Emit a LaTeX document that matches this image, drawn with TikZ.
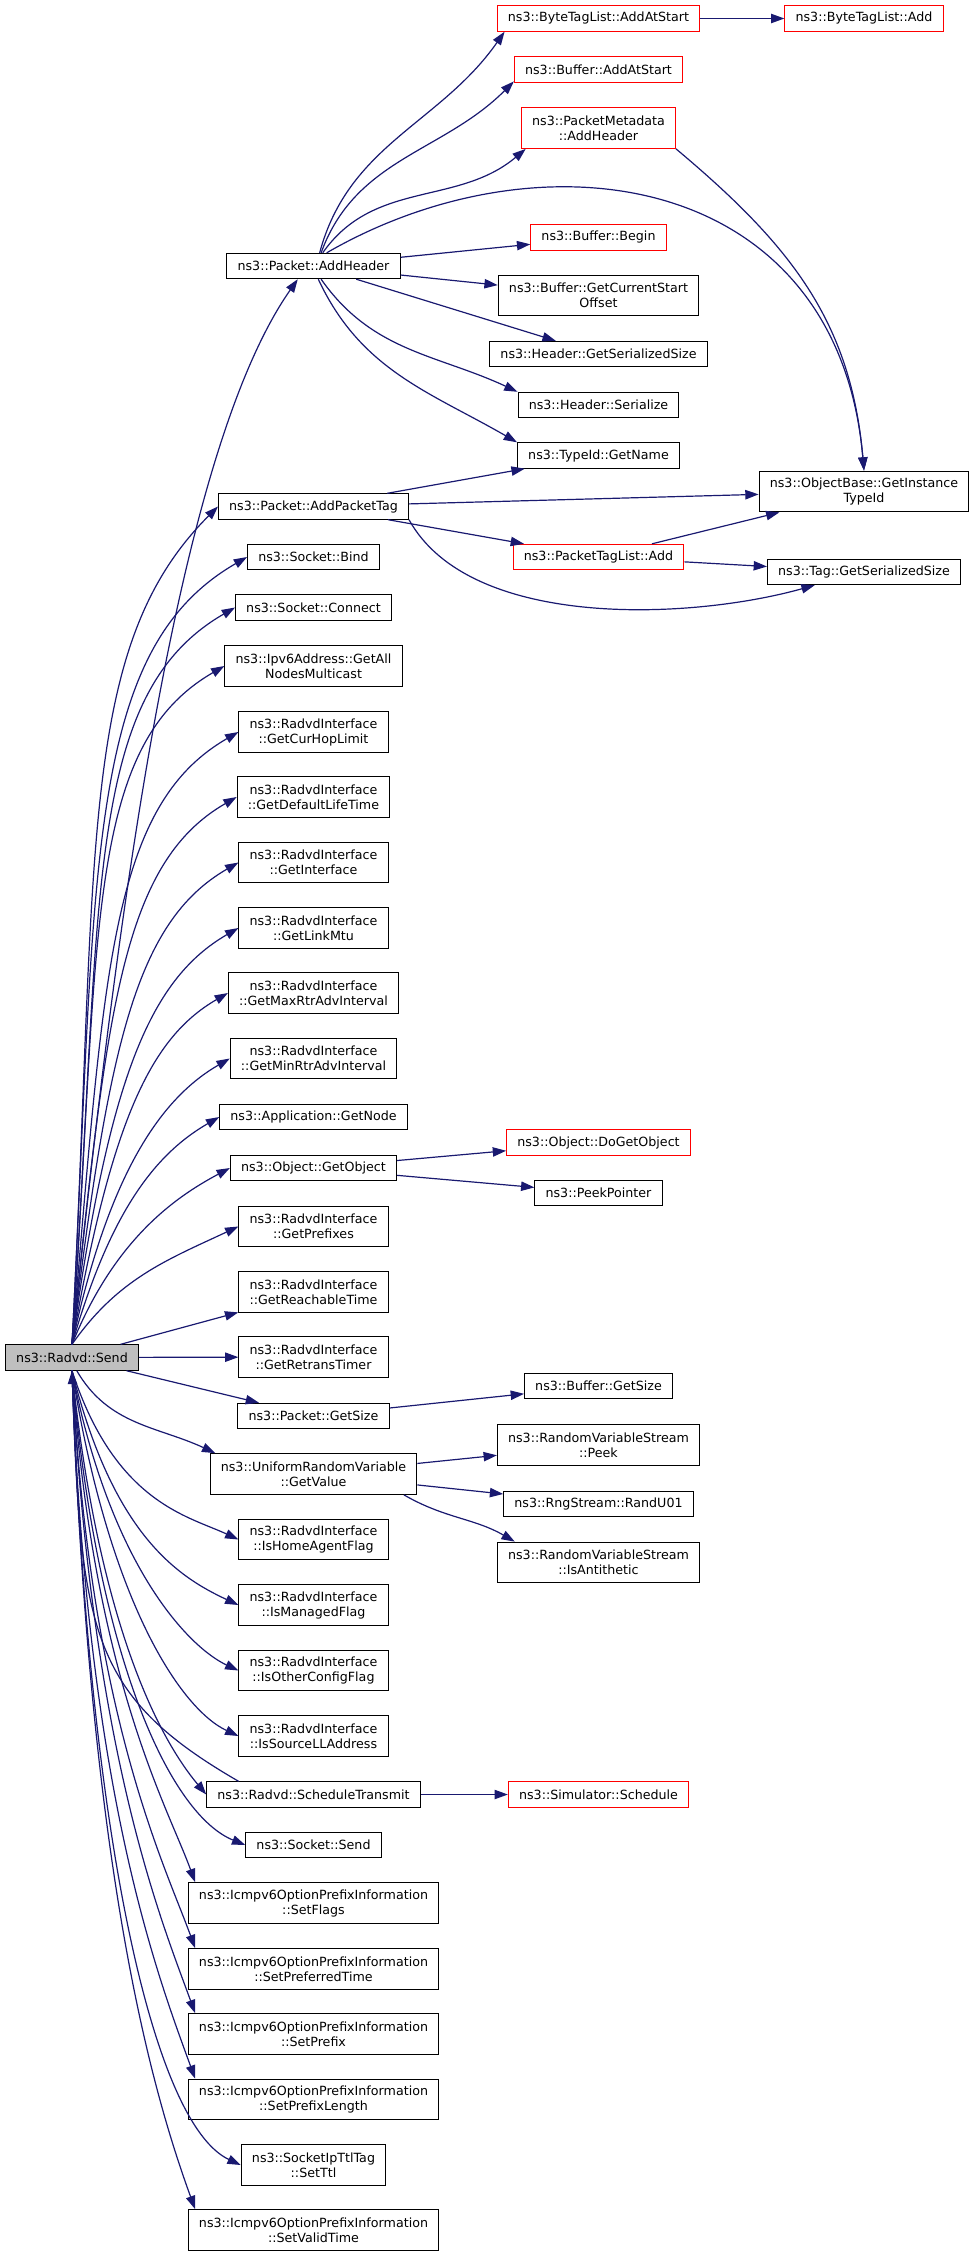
\documentclass[tikz,border=0pt]{standalone}
\usepackage{fontspec}
\setmainfont{DejaVu Sans}
\usetikzlibrary{arrows.meta}
\definecolor{edgeblue}{HTML}{191970}
\definecolor{rootgray}{HTML}{BFBFBF}

\begin{document}
\begin{tikzpicture}[x=0.75pt,y=0.75pt,
  fn/.style={rectangle,draw=black,fill=white,line width=0.8pt,font=\fontsize{9.5}{11.25}\selectfont,inner xsep=8pt,inner ysep=0pt,minimum height=19pt,align=center},
  fntwo/.style={fn,minimum height=30.5pt},
  fnred/.style={draw=red},
  fnroot/.style={fn,fill=rootgray},
  call/.style={draw=edgeblue,line width=0.9pt,-{Triangle[length=10pt,width=7pt]}},
  fan/.style={out looseness=1.5,in looseness=0.6},
  fandown/.style={out looseness=1.5,in looseness=0.4}]

\useasboundingbox (0,0) rectangle (971,-2256);

\node[fnroot] (send) at (72,-1357.5) {ns3::Radvd::Send};

\node[fn] (addHeader) at (313.5,-266) {ns3::Packet::AddHeader};
\node[fn] (addPacketTag) at (313.5,-506.5) {ns3::Packet::AddPacketTag};
\node[fn] (bind) at (313.5,-557) {ns3::Socket::Bind};
\node[fn] (connect) at (313.5,-607.5) {ns3::Socket::Connect};
\node[fntwo] (getAllNodes) at (313.5,-666) {ns3::Ipv6Address::GetAll\\NodesMulticast};
\node[fntwo] (getCurHop) at (313.5,-732) {ns3::RadvdInterface\\::GetCurHopLimit};
\node[fntwo] (getDefLife) at (313.5,-797) {ns3::RadvdInterface\\::GetDefaultLifeTime};
\node[fntwo] (getInterface) at (313.5,-862.5) {ns3::RadvdInterface\\::GetInterface};
\node[fntwo] (getLinkMtu) at (313.5,-928) {ns3::RadvdInterface\\::GetLinkMtu};
\node[fntwo] (getMaxRtr) at (313.5,-993) {ns3::RadvdInterface\\::GetMaxRtrAdvInterval};
\node[fntwo] (getMinRtr) at (313.5,-1058.5) {ns3::RadvdInterface\\::GetMinRtrAdvInterval};
\node[fn] (appGetNode) at (313.5,-1117) {ns3::Application::GetNode};
\node[fn] (getObject) at (313.5,-1168) {ns3::Object::GetObject};
\node[fntwo] (getPrefixes) at (313.5,-1226.5) {ns3::RadvdInterface\\::GetPrefixes};
\node[fntwo] (getReachable) at (313.5,-1292) {ns3::RadvdInterface\\::GetReachableTime};
\node[fntwo] (getRetrans) at (313.5,-1357) {ns3::RadvdInterface\\::GetRetransTimer};
\node[fn] (pktGetSize) at (313.5,-1416) {ns3::Packet::GetSize};
\node[fntwo] (getValue) at (313.5,-1474) {ns3::UniformRandomVariable\\::GetValue};
\node[fntwo] (isHomeAgent) at (313.5,-1539.5) {ns3::RadvdInterface\\::IsHomeAgentFlag};
\node[fntwo] (isManaged) at (313.5,-1605) {ns3::RadvdInterface\\::IsManagedFlag};
\node[fntwo] (isOtherConfig) at (313.5,-1670.5) {ns3::RadvdInterface\\::IsOtherConfigFlag};
\node[fntwo] (isSourceLL) at (313.5,-1736) {ns3::RadvdInterface\\::IsSourceLLAddress};
\node[fn] (scheduleTx) at (313.5,-1794.5) {ns3::Radvd::ScheduleTransmit};
\node[fn] (socketSend) at (313.5,-1845) {ns3::Socket::Send};
\node[fntwo] (setFlags) at (313.5,-1903) {ns3::Icmpv6OptionPrefixInformation\\::SetFlags};
\node[fntwo] (setPreferred) at (313.5,-1969) {ns3::Icmpv6OptionPrefixInformation\\::SetPreferredTime};
\node[fntwo] (setPrefix) at (313.5,-2034) {ns3::Icmpv6OptionPrefixInformation\\::SetPrefix};
\node[fntwo] (setPrefixLength) at (313.5,-2099.5) {ns3::Icmpv6OptionPrefixInformation\\::SetPrefixLength};
\node[fntwo] (setTtl) at (313.5,-2165) {ns3::SocketIpTtlTag\\::SetTtl};
\node[fntwo] (setValid) at (313.5,-2230) {ns3::Icmpv6OptionPrefixInformation\\::SetValidTime};

\node[fn,fnred] (btlAddAtStart) at (598.5,-18.5) {ns3::ByteTagList::AddAtStart};
\node[fn,fnred] (bufAddAtStart) at (598.5,-69.5) {ns3::Buffer::AddAtStart};
\node[fntwo,fnred] (pmAddHeader) at (598.5,-128) {ns3::PacketMetadata\\::AddHeader};
\node[fn,fnred] (bufBegin) at (598.5,-237.5) {ns3::Buffer::Begin};
\node[fntwo] (bufGetCurStart) at (598.5,-295.5) {ns3::Buffer::GetCurrentStart\\Offset};
\node[fn] (hdrGetSerSize) at (598.5,-354) {ns3::Header::GetSerializedSize};
\node[fn] (hdrSerialize) at (598.5,-405) {ns3::Header::Serialize};
\node[fn] (typeIdGetName) at (598.5,-455.5) {ns3::TypeId::GetName};
\node[fn,fnred] (ptlAdd) at (598.5,-557) {ns3::PacketTagList::Add};
\node[fn,fnred] (doGetObject) at (598.5,-1142.5) {ns3::Object::DoGetObject};
\node[fn] (peekPointer) at (598.5,-1193) {ns3::PeekPointer};
\node[fn] (bufGetSize) at (598.5,-1386) {ns3::Buffer::GetSize};
\node[fntwo] (rvsPeek) at (598.5,-1445) {ns3::RandomVariableStream\\::Peek};
\node[fn] (randU01) at (598.5,-1504) {ns3::RngStream::RandU01};
\node[fntwo] (isAntithetic) at (598.5,-1562.5) {ns3::RandomVariableStream\\::IsAntithetic};
\node[fn,fnred] (simSchedule) at (598.5,-1794.5) {ns3::Simulator::Schedule};

\node[fn,fnred] (btlAdd) at (864,-18.5) {ns3::ByteTagList::Add};
\node[fntwo] (getInstTypeId) at (864,-491.5) {ns3::ObjectBase::GetInstance\\TypeId};
\node[fn] (tagGetSerSize) at (864,-572) {ns3::Tag::GetSerializedSize};

% calls made by Send, upwards
\draw[call] (send.north) to[out=84,in=235,in looseness=0.5] (addHeader.-140);
\draw[call] (send.north) to[out=87,in=225,fan] (addPacketTag.west);
\draw[call] (send.north) to[out=87,in=210,fan] (bind.west);
\draw[call] (send.north) to[out=86,in=210,fan] (connect.west);
\draw[call] (send.north) to[out=86,in=210,fan] (getAllNodes.west);
\draw[call] (send.north) to[out=85,in=210,fan] (getCurHop.west);
\draw[call] (send.north) to[out=84,in=210,fan] (getDefLife.west);
\draw[call] (send.north) to[out=83,in=210,fan] (getInterface.west);
\draw[call] (send.north) to[out=82,in=210,fan] (getLinkMtu.west);
\draw[call] (send.north) to[out=80,in=210,fan] (getMaxRtr.west);
\draw[call] (send.north) to[out=78,in=210,out looseness=1.4,in looseness=0.6] (getMinRtr.west);
\draw[call] (send.north) to[out=74,in=210,out looseness=1.3,in looseness=0.7] (appGetNode.west);
\draw[call] (send.north) to[out=68,in=208,out looseness=1.2,in looseness=0.7] (getObject.west);
\draw[call] (send.north) to[out=55,in=205] (getPrefixes.west);
\draw[call] (send) -- (getReachable);
\draw[call] (send) -- (getRetrans);
\draw[call] (send) -- (pktGetSize);

% calls made by Send, downwards
\draw[call] (send.-70) to[out=-60,in=155] (getValue.168);
\draw[call] (send.south) to[out=-72,in=155,fan] (isHomeAgent.west);
\draw[call] (send.south) to[out=-76,in=155,fan] (isManaged.west);
\draw[call] (send.south) to[out=-79,in=155,fandown] (isOtherConfig.west);
\draw[call] (send.south) to[out=-81,in=155,fandown] (isSourceLL.west);
\draw[call] (send.south) to[out=-84,in=130,fandown] (scheduleTx.west);
\draw[call] (send.south) to[out=-85,in=158,fandown] (socketSend.west);
\draw[call] (send.south) to[out=-86,in=110,fandown] (setFlags.170);
\draw[call] (send.south) to[out=-87,in=110,fandown] (setPreferred.170);
\draw[call] (send.south) to[out=-87,in=110,fandown] (setPrefix.170);
\draw[call] (send.south) to[out=-88,in=110,fandown] (setPrefixLength.170);
\draw[call] (send.south) to[out=-88,in=155,out looseness=1.5,in looseness=0.3] (setTtl.west);
\draw[call] (send.south) to[out=-88,in=110,fandown] (setValid.170);
\draw[call] (scheduleTx.170) to[out=150,in=-88,in looseness=1.5] (send.south);

% second level
\draw[call] (addHeader.65) to[out=75,in=235] (btlAddAtStart.188);
\draw[call] (addHeader.60) to[out=70,in=225] (bufAddAtStart.188);
\draw[call] (addHeader.55) to[out=55,in=220] (pmAddHeader.196);
\draw[call] (addHeader.45) .. controls +(30:250) and +(95:300) .. (getInstTypeId.north);
\draw[call] (pmAddHeader.south east) .. controls +(-40:150) and +(95:150) .. (getInstTypeId.north);
\draw[call] (addHeader) -- (bufBegin);
\draw[call] (addHeader) -- (bufGetCurStart);
\draw[call] (addHeader) -- (hdrGetSerSize);
\draw[call] (addHeader.-60) to[out=-55,in=155] (hdrSerialize.north west);
\draw[call] (addHeader.-70) to[out=-65,in=150] (typeIdGetName.north west);
\draw[call] (addPacketTag) -- (typeIdGetName);
\draw[call] (addPacketTag) -- (getInstTypeId);
\draw[call] (addPacketTag) -- (ptlAdd);
\draw[call] (addPacketTag.south east) .. controls (470,-630) and (690,-620) .. (tagGetSerSize.195);
\draw[call] (ptlAdd) -- (getInstTypeId);
\draw[call] (ptlAdd) -- (tagGetSerSize);
\draw[call] (btlAddAtStart) -- (btlAdd);
\draw[call] (getObject) -- (doGetObject);
\draw[call] (getObject) -- (peekPointer);
\draw[call] (pktGetSize) -- (bufGetSize);
\draw[call] (getValue) -- (rvsPeek);
\draw[call] (getValue) -- (randU01);
\draw[call] (getValue.-13) to[out=-30,in=150] (isAntithetic.166);
\draw[call] (scheduleTx) -- (simSchedule);

\end{tikzpicture}
\end{document}
